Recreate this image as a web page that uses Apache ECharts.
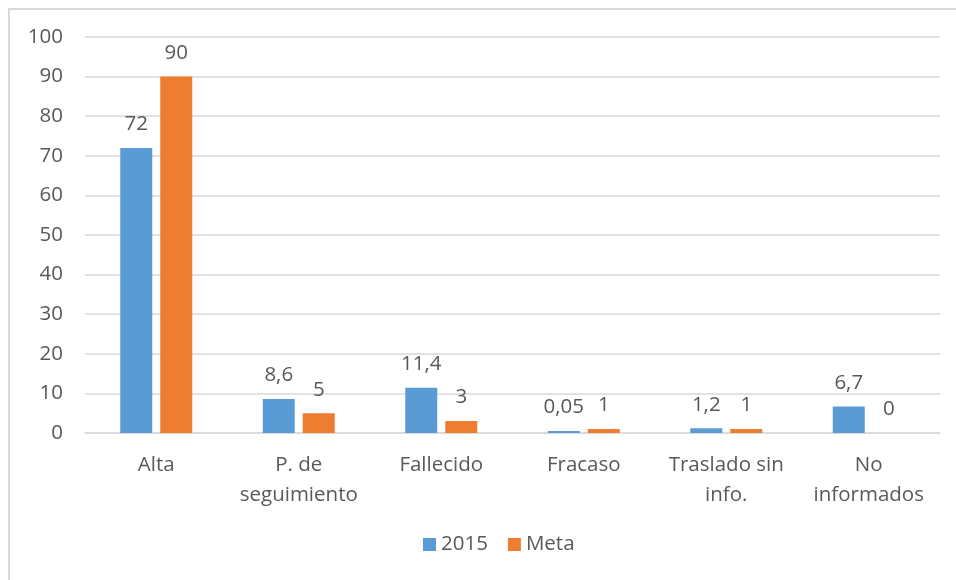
<!DOCTYPE html>
<html>
<head>
<meta charset="utf-8">
<script src="https://cdn.jsdelivr.net/npm/echarts@6/dist/echarts.min.js"></script>
<style>
  html, body { margin: 0; padding: 0; background: #fff; }
  #frame { position: absolute; left: 8px; top: 8px; width: 948px; height: 572px;
           border-top: 2px solid #d9d9d9; border-left: 2px solid #d9d9d9; box-sizing: border-box; }
  #chart { position: absolute; left: 0; top: 0; width: 956px; height: 580px; }
</style>
</head>
<body>
<div id="frame"></div>
<div id="chart"></div>
<script>
// datos
var categorias = ['Alta', 'P. de\nseguimiento', 'Fallecido', 'Fracaso', 'Traslado sin\ninfo.', 'No\ninformados']
var valores2015 = [72, 8.6, 11.4, 0.05, 1.2, 6.7]
var valoresMeta = [90, 5, 3, 1, 1, 0]
var nombres = ['2015', 'Meta']

var fuente = '"Open Sans", "Liberation Sans", sans-serif'
var gris = '#595959'
var tam = 20.5

function coma(p) {
  return String(p.value).replace('.', ',')
}

var myChart = echarts.init(document.getElementById('chart'))
myChart.setOption({
  animation: false,
  textStyle: { fontFamily: fuente },
  grid: { left: 85, right: 16, top: 37, bottom: 147 },
  legend: {
    data: nombres,
    bottom: 20,
    left: 418,
    icon: 'rect',
    itemWidth: 13,
    itemHeight: 13,
    itemGap: 20,
    itemStyle: { borderWidth: 0 },
    textStyle: { color: gris, fontSize: tam, fontFamily: fuente }
  },
  xAxis: {
    type: 'category',
    data: categorias,
    axisLine: { lineStyle: { color: '#d9d9d9', width: 1.5 } },
    axisTick: { show: false },
    axisLabel: { interval: 0, color: gris, fontSize: tam, lineHeight: 30, margin: 17, fontFamily: fuente }
  },
  yAxis: {
    type: 'value',
    min: 0,
    max: 100,
    interval: 10,
    axisLine: { show: false },
    axisTick: { show: false },
    axisLabel: { color: gris, fontSize: tam, margin: 22, fontFamily: fuente },
    splitLine: { lineStyle: { color: '#d9d9d9', width: 1.5 } }
  },
  series: [
    {
      name: nombres[0],
      type: 'bar',
      data: valores2015,
      barWidth: 32,
      barGap: '25%',
      barMinHeight: 2,
      itemStyle: { color: '#5B9BD5' },
      label: { show: true, position: 'top', distance: 13, color: gris, fontSize: tam, formatter: coma }
    },
    {
      name: nombres[1],
      type: 'bar',
      data: valoresMeta,
      barWidth: 32,
      itemStyle: { color: '#ED7D31' },
      label: { show: true, position: 'top', distance: 13, color: gris, fontSize: tam, formatter: coma }
    }
  ]
})
</script>
</body>
</html>
